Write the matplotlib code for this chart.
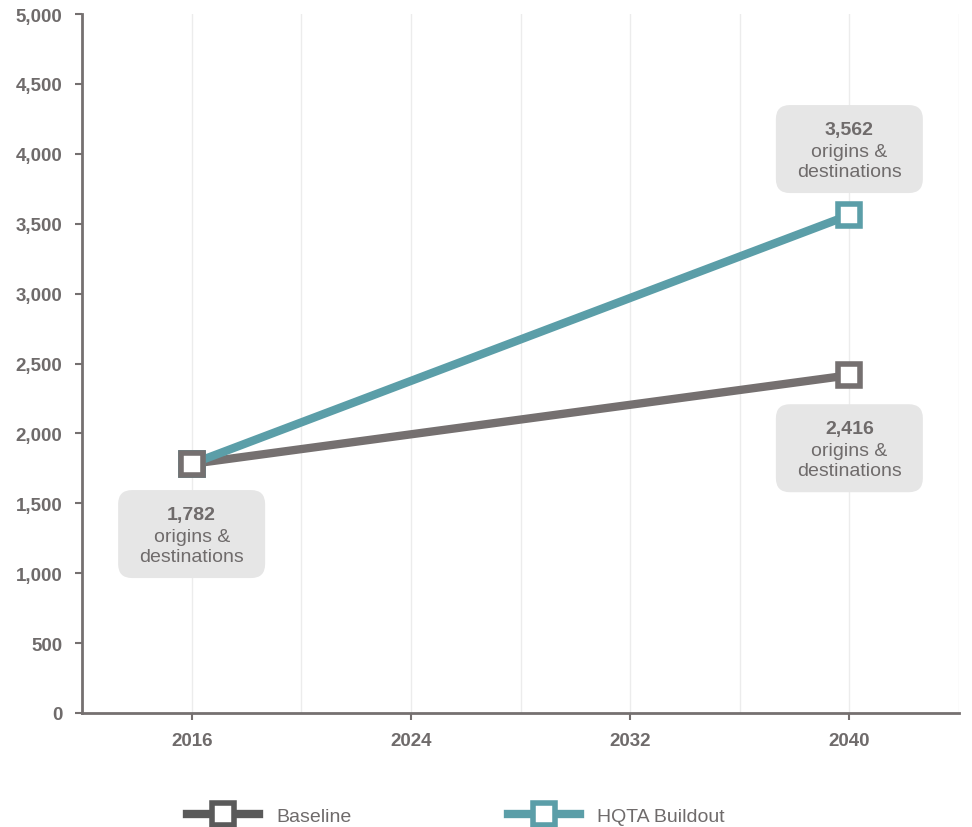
import matplotlib
matplotlib.use("Agg")
import matplotlib.pyplot as plt
from matplotlib.patches import FancyBboxPatch
from matplotlib.transforms import ScaledTranslation

plt.rcParams['font.family'] = ['Liberation Sans', 'DejaVu Sans']

years = [2016, 2040]
baseline = [1782, 2416]
hqta = [1782, 3562]
tick_years = [2016, 2024, 2032, 2040]
y_ticks = list(range(0, 5001, 500))
# callouts: year, value, value at box centre
notes = [(2016, 1782, 1280), (2040, 3562, 4034), (2040, 2416, 1894)]

gray = '#757070'
teal = '#5b9ea8'
text_gray = '#6f6b6b'

fig = plt.figure(figsize=(9.72, 8.28), dpi=100)
ax = fig.add_axes([82 / 972, 1 - 714 / 828, (959 - 82) / 972, (714 - 15) / 828])

ax.plot(years, baseline, color=gray, lw=6, marker='s', ms=16, mfc='white',
        mec=gray, mew=4, zorder=3)
ax.plot(years, hqta, color=teal, lw=6, marker='s', ms=16, mfc='white',
        mec=teal, mew=4, zorder=4)
# baseline start marker sits on top
ax.plot(years[:1], baseline[:1], ls='none', marker='s', ms=16, mfc='white',
        mec=gray, mew=4, zorder=5)

ax.set_xlim(2012, 2044)
ax.set_ylim(0, 5000)
ax.set_xticks(tick_years)
ax.set_xticks(range(2012, 2045, 4), minor=True)
ax.set_yticks(y_ticks)
ax.set_yticklabels([f'{v:,}' for v in y_ticks])
ax.grid(axis='x', which='both', color='#ececec', lw=1, zorder=0)
ax.tick_params(axis='x', which='minor', length=0)
ax.tick_params(axis='both', which='major', colors=gray, length=5, width=1.5,
               labelsize=13.5, labelcolor=text_gray, pad=9)
for lbl in ax.get_xticklabels() + ax.get_yticklabels():
    lbl.set_fontweight('bold')
for s in ['top', 'right']:
    ax.spines[s].set_visible(False)
for s in ['left', 'bottom']:
    ax.spines[s].set_color(gray)
    ax.spines[s].set_linewidth(2)

for x, v, yc in notes:
    # patch sized in inches, anchored at the data point
    tr = fig.dpi_scale_trans + ScaledTranslation(x, yc, ax.transData)
    box = FancyBboxPatch((-0.615, -0.32), 1.23, 0.64,
                         boxstyle='round,pad=0.12,rounding_size=0.14',
                         fc='#e6e6e6', ec='none', transform=tr, zorder=6,
                         clip_on=False)
    ax.add_patch(box)
    ax.text(0, 0.2, f'{v:,}', transform=tr, ha='center', va='center',
            fontsize=14, fontweight='bold', color=text_gray, zorder=7)
    ax.text(0, -0.02, 'origins &', transform=tr, ha='center', va='center',
            fontsize=14, color=text_gray, zorder=7)
    ax.text(0, -0.22, 'destinations', transform=tr, ha='center', va='center',
            fontsize=14, color=text_gray, zorder=7)

h1, = ax.plot([], [], color='#5a5a5a', lw=6, marker='s', ms=16, mfc='white',
              mec='#5a5a5a', mew=4)
h2, = ax.plot([], [], color=teal, lw=6, marker='s', ms=16, mfc='white',
              mec=teal, mew=4)
leg = fig.legend([h1, h2], ['Baseline', 'HQTA Buildout'], loc='center',
                 bbox_to_anchor=(456 / 972, 1 - 817 / 828), ncol=2, frameon=False,
                 fontsize=14, handlelength=3.7, columnspacing=8.0, handletextpad=0.9)
for t in leg.get_texts():
    t.set_color(text_gray)

fig.savefig('out.png', dpi=100)
